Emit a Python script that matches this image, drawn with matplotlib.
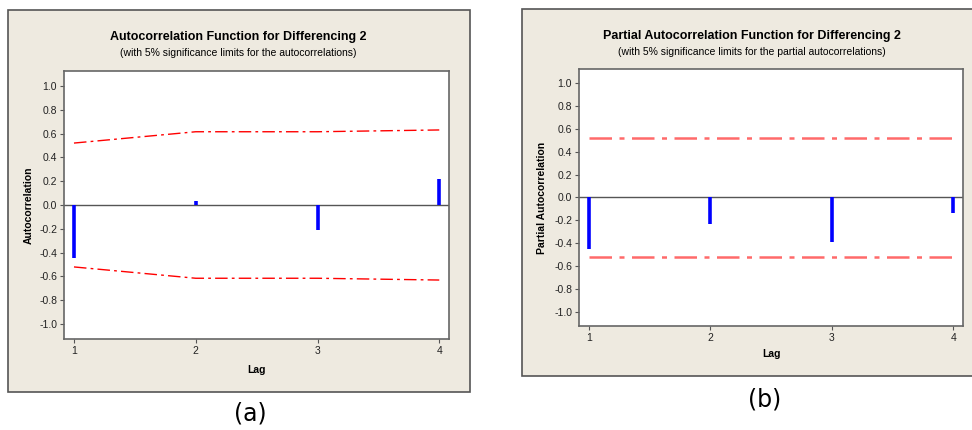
import matplotlib.pyplot as plt
from matplotlib.patches import Rectangle

# данные
lags = [1, 2, 3, 4]
acf_vals = [-0.445, 0.03, -0.21, 0.22]
acf_limit = [0.52, 0.615, 0.615, 0.63]
pacf_vals = [-0.45, -0.235, -0.39, -0.14]
pacf_limit = [0.52, 0.52, 0.52, 0.52]
yticks = [1.0, 0.8, 0.6, 0.4, 0.2, 0.0, -0.2, -0.4, -0.6, -0.8, -1.0]

W, H = 972, 430
plt.rcParams['font.family'] = ['Liberation Sans', 'DejaVu Sans']

fig = plt.figure(figsize=(W / 100, H / 100), dpi=100)
fig.patch.set_facecolor('white')

def box(x0, y0, x1, y1):
    # пиксели -> доли фигуры
    return [x0 / W, 1 - y1 / H, (x1 - x0) / W, (y1 - y0) / H]

bg = '#EEEAE0'
edge = '#555555'

# фон панелей
for (x0, y0, x1, y1) in [(8, 10, 470, 392), (522, 9, 990, 376)]:
    fig.patches.append(Rectangle((x0 / W, 1 - y1 / H), (x1 - x0) / W, (y1 - y0) / H,
                                 transform=fig.transFigure, facecolor=bg,
                                 edgecolor=edge, lw=1.2, zorder=-5))

def panel(rect, vals, lim, title, subtitle, ylabel, tx, ty, lag_y, ylab_x, red, red_lw):
    ax = fig.add_axes(box(*rect))
    ax.set_zorder(2)
    ax.set_facecolor('white')
    ax.axhline(0, color='#555555', lw=1.0, zorder=1)
    ax.vlines(lags, 0, vals, color='blue', lw=2.6, zorder=3)
    up = lim
    lo = [-v for v in lim]
    ax.plot(lags, up, color=red, lw=red_lw, dashes=(9, 3, 2, 3), zorder=2)
    ax.plot(lags, lo, color=red, lw=red_lw, dashes=(9, 3, 2, 3), zorder=2)
    ax.set_xlim(0.918, 4.08)
    ax.set_ylim(-1.125, 1.125)
    ax.set_xticks(lags)
    ax.set_yticks(yticks)
    ax.set_yticklabels([f'{v:.1f}' for v in yticks])
    ax.tick_params(labelsize=7.5, length=3, color='#555555', pad=2, labelcolor='#222222')
    for s in ax.spines.values():
        s.set_color('#666666')
        s.set_linewidth(1.2)
    fig.text(tx / W, 1 - ty / H, title, ha='center', va='center',
             fontsize=9, fontweight='bold')
    fig.text(tx / W, 1 - (ty + 16) / H, subtitle, ha='center', va='center',
             fontsize=7.5)
    cx = (rect[0] + rect[2]) / 2
    cy = (rect[1] + rect[3]) / 2
    fig.text(cx / W, 1 - lag_y / H, 'Lag', ha='center', va='center',
             fontsize=7.5, fontweight='bold')
    fig.text(ylab_x / W, 1 - cy / H, ylabel, ha='center', va='center',
             rotation=90, fontsize=7.5, fontweight='bold')
    return ax

panel((64, 71, 449, 339), acf_vals, acf_limit,
      'Autocorrelation Function for Differencing 2',
      '(with 5% significance limits for the autocorrelations)',
      'Autocorrelation', 238, 37, 370, 29, 'red', 1.0)

panel((579, 69, 963, 326), pacf_vals, pacf_limit,
      'Partial Autocorrelation Function for Differencing 2',
      '(with 5% significance limits for the partial autocorrelations)',
      'Partial Autocorrelation', 752, 36, 354, 542, '#FF6A6A', 1.8)

fig.text(250 / W, 1 - 413 / H, '(a)', ha='center', va='center', fontsize=17,
         family=['DejaVu Sans'])
fig.text(765 / W, 1 - 400 / H, '(b)', ha='center', va='center', fontsize=17,
         family=['DejaVu Sans'])

fig.savefig('out.png', dpi=100, facecolor='white')
